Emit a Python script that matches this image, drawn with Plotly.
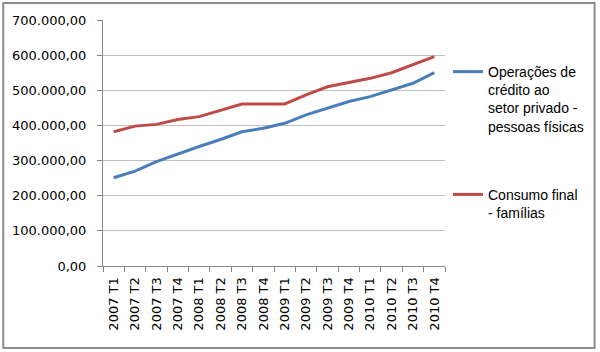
import plotly.graph_objects as go

categories = ["2007 T1", "2007 T2", "2007 T3", "2007 T4",
              "2008 T1", "2008 T2", "2008 T3", "2008 T4",
              "2009 T1", "2009 T2", "2009 T3", "2009 T4",
              "2010 T1", "2010 T2", "2010 T3", "2010 T4"]

credito = [251000, 270000, 297000, 319000, 340000, 360000, 382000, 392000,
           406000, 430000, 449000, 468000, 482000, 501000, 520000, 550000]

consumo = [382000, 398000, 403000, 417000, 425000, 444000, 461000, 461000,
           461000, 487000, 510000, 522000, 534000, 550000, 572000, 596000]

name_credito = "Operações de<br>crédito ao<br>setor privado -<br>pessoas físicas"
name_consumo = "Consumo final<br>- famílias"

yticks = [0, 100000, 200000, 300000, 400000, 500000, 600000, 700000]

fig = go.Figure()
fig.add_trace(go.Scatter(x=categories, y=credito, mode="lines", name=name_credito,
                         line=dict(color="#4A7EBB", width=3), legendgroup="a"))
fig.add_trace(go.Scatter(x=categories, y=consumo, mode="lines", name=name_consumo,
                         line=dict(color="#BE4B48", width=3), legendgroup="b"))

L, R, T, B = 103, 154, 20, 86
W, H = 600, 352
pw, ph = W - L - R, H - T - B

def px_to_paper_x(px):
    return (px - L) / pw

def py_to_paper_y(py):
    return (H - B - py) / ph

fig.update_layout(
    width=W, height=H,
    margin=dict(l=L, r=R, t=T, b=B),
    paper_bgcolor="white", plot_bgcolor="white",
    separators=",.",
    font=dict(family="DejaVu Sans", size=13, color="black"),
    showlegend=True,
    legend=dict(x=px_to_paper_x(448), y=py_to_paper_y(56), xanchor="left", yanchor="top",
                valign="top", tracegroupgap=47, traceorder="grouped",
                font=dict(family="Liberation Sans", size=14, color="black"),
                bgcolor="rgba(0,0,0,0)"),
    xaxis=dict(type="category", showgrid=False, showline=True, linecolor="#868686", linewidth=1,
               ticks="outside", tickson="boundaries", ticklen=5, tickcolor="#868686",
               tickangle=-90, tickfont=dict(family="DejaVu Sans", size=13),
               ticklabelstandoff=5, range=[-0.5, 15.5]),
    yaxis=dict(range=[0, 700000], tickvals=yticks, tickformat=",.2f",
               showgrid=True, gridcolor="#BFBFBF", gridwidth=1,
               showline=True, linecolor="#868686", linewidth=1,
               ticks="outside", ticklen=5, tickcolor="#868686",
               zeroline=False, ticklabelstandoff=8,
               tickfont=dict(family="DejaVu Sans", size=13)),
    shapes=[dict(type="rect", xref="paper", yref="paper",
                 x0=px_to_paper_x(3), x1=px_to_paper_x(596),
                 y0=py_to_paper_y(348), y1=py_to_paper_y(3),
                 line=dict(color="#8C8C8C", width=2), fillcolor="rgba(0,0,0,0)", layer="below")],
)

fig.write_html("out.html")
